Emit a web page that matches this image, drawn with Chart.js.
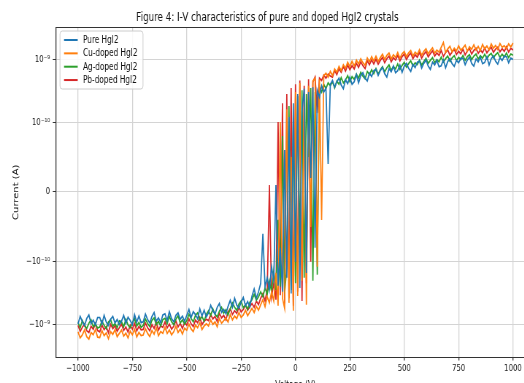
<!DOCTYPE html>
<html>
<head>
<meta charset="utf-8">
<script src="https://cdn.jsdelivr.net/npm/chart.js@4.4.0/dist/chart.umd.min.js"></script>
<style>
html, body { margin: 0; padding: 0; background: #fff; overflow: hidden; width: 524px; height: 383px; }
/* the source picture is squeezed sideways, so the whole chart is too */
#wrap { position: absolute; left: 0; top: 0; width: 810px; height: 395px; transform: scaleX(0.73); transform-origin: 0 0; }
</style>
</head>
<body>
<div id="wrap"><canvas id="myChart" width="810" height="395"></canvas></div>
<script>
// voltage (V)
const voltage = [
  -1000,-990,-980,-970,-960,-950,-940,-930,-920,-910,-900,-890,-880,-870,-860,-850,-840,-830,-820,-810,
  -800,-790,-780,-770,-760,-750,-740,-730,-720,-710,-700,-690,-680,-670,-660,-650,-640,-630,-620,-610,
  -600,-590,-580,-570,-560,-550,-540,-530,-520,-510,-500,-490,-480,-470,-460,-450,-440,-430,-420,-410,
  -400,-390,-380,-370,-360,-350,-340,-330,-320,-310,-300,-290,-280,-270,-260,-250,-240,-230,-220,-210,
  -200,-190,-180,-170,-160,-150,-140,-130,-120,-110,-100,-90,-80,-70,-60,-50,-40,-30,-20,-10,
  0,10,20,30,40,50,60,70,80,90,100,110,120,130,140,150,160,170,180,190,
  200,210,220,230,240,250,260,270,280,290,300,310,320,330,340,350,360,370,380,390,
  400,410,420,430,440,450,460,470,480,490,500,510,520,530,540,550,560,570,580,590,
  600,610,620,630,640,650,660,670,680,690,700,710,720,730,740,750,760,770,780,790,
  800,810,820,830,840,850,860,870,880,890,900,910,920,930,940,950,960,970,980,990,1000];

// current, in nA (1 nA = 1e-9 A)
const pureNA = [
  -0.97,-0.74,-0.90,-1.03,-0.80,-0.70,-0.96,-0.85,-1.01,-0.77,
  -0.77,-0.98,-0.71,-0.91,-1.03,-0.82,-0.74,-0.94,-0.83,-1.00,
  -0.88,-0.71,-0.95,-0.76,-0.86,-1.00,-0.69,-0.91,-0.73,-0.93,
  -0.90,-0.68,-0.83,-0.94,-0.74,-0.64,-0.88,-0.78,-0.93,-0.70,
  -0.67,-0.86,-0.62,-0.80,-0.90,-0.71,-0.65,-0.82,-0.73,-0.88,
  -0.71,-0.57,-0.77,-0.62,-0.69,-0.81,-0.56,-0.73,-0.59,-0.75,
  -0.65,-0.49,-0.60,-0.68,-0.53,-0.46,-0.64,-0.57,-0.67,-0.51,
  -0.41,-0.53,-0.38,-0.49,-0.55,-0.44,-0.37,-0.50,-0.43,-0.52,
  -0.35,-0.27,-0.38,-0.30,
  -0.22,-0.06,-0.25,-0.18,-0.28,-0.12,-0.20,0.01,-0.24,-0.08,
  -0.30,0.06,-0.18,0.12,-0.32,0.20,-0.10,0.28,-0.26,0.15,
  0.34,-0.15,0.30,0.02,0.36,-0.08,0.32,0.25,0.38,0.30,
  0.35,0.04,0.40,
  0.46,0.36,0.44,0.50,0.39,0.34,0.47,0.41,0.52,0.40,
  0.44,0.57,0.42,0.55,0.61,0.50,0.45,0.60,0.53,0.66,
  0.69,0.55,0.66,0.74,0.59,0.52,0.71,0.63,0.78,0.61,
  0.66,0.81,0.62,0.78,0.86,0.72,0.64,0.83,0.74,0.90,
  0.93,0.72,0.86,0.97,0.78,0.69,0.90,0.81,0.96,0.76,
  0.79,0.98,0.73,0.92,1.02,0.85,0.77,0.96,0.88,1.04,
  1.03,0.82,0.97,1.09,0.86,0.78,1.01,0.91,1.08,0.85,
  0.89,1.09,0.81,1.02,1.13,0.93,0.84,1.06,0.96,1.12,
  1.10,0.88,1.04,0.99];
const cuNA = [
  -1.30,-1.62,-1.46,-1.21,-1.55,-1.70,-1.34,-1.45,-1.19,-1.58,
  -1.60,-1.24,-1.50,-1.35,-1.68,-1.29,-1.43,-1.20,-1.55,-1.38,
  -1.22,-1.52,-1.36,-1.63,-1.27,-1.45,-1.18,-1.57,-1.33,-1.49,
  -1.46,-1.16,-1.38,-1.55,-1.24,-1.42,-1.12,-1.50,-1.29,-1.37,
  -1.10,-1.38,-1.21,-1.45,-1.30,-1.06,-1.33,-1.18,-1.41,-1.14,
  -1.23,-0.98,-1.17,-1.29,-1.02,-1.12,-0.93,-1.20,-1.05,-0.97,
  -1.05,-0.84,-0.99,-0.90,-1.08,-0.80,-0.95,-0.86,-0.79,-0.91,
  -0.69,-0.84,-0.73,-0.80,-0.64,-0.77,-0.70,-0.59,-0.72,-0.63,
  -0.55,-0.64,-0.51,-0.59,
  -0.48,-0.40,-0.52,-0.36,-0.45,-0.30,-0.42,-0.15,-0.50,0.10,
  -0.38,-0.55,0.16,-0.45,0.05,-0.60,0.30,-0.35,0.42,-0.20,
  0.22,-0.48,0.38,-0.05,0.45,0.50,-0.12,0.48,-0.04,0.55,
  0.60,0.52,0.64,
  0.55,0.70,0.62,0.77,0.66,0.82,0.72,0.90,0.76,0.93,
  0.78,0.97,0.84,1.02,0.88,0.80,1.05,0.91,1.10,0.94,
  1.12,0.92,1.06,1.20,0.99,1.15,1.25,1.01,1.18,1.07,
  1.28,1.04,1.22,1.33,1.10,1.26,1.38,1.13,1.30,1.19,
  1.42,1.16,1.34,1.47,1.22,1.37,1.52,1.25,1.40,1.30,
  1.55,1.84,1.28,1.46,1.60,1.31,1.50,1.36,1.63,1.39,
  1.52,1.68,1.34,1.58,1.44,1.70,1.40,1.60,1.37,1.72,
  1.46,1.62,1.41,1.75,1.50,1.66,1.43,1.78,1.55,1.64,
  1.48,1.76,1.57,1.82];
const agNA = [
  -0.92,-1.12,-0.86,-1.04,-1.15,-0.95,-0.84,-1.08,-0.97,-1.13,
  -1.09,-0.88,-1.02,-1.16,-0.91,-0.83,-1.06,-0.96,-1.12,-0.87,
  -0.90,-1.08,-0.82,-1.01,-1.12,-0.94,-0.80,-1.05,-0.92,-1.10,
  -1.03,-0.81,-0.96,-1.07,-0.85,-0.78,-1.00,-0.89,-1.05,-0.83,
  -0.79,-0.96,-0.74,-0.90,-1.00,-0.82,-0.72,-0.94,-0.84,-0.98,
  -0.86,-0.68,-0.80,-0.90,-0.71,-0.65,-0.84,-0.74,-0.88,-0.69,
  -0.60,-0.72,-0.56,-0.68,-0.75,-0.61,-0.53,-0.66,-0.58,-0.70,
  -0.56,-0.45,-0.53,-0.59,-0.47,-0.42,-0.54,-0.48,-0.57,-0.44,
  -0.40,-0.33,-0.41,-0.36,
  -0.30,-0.36,-0.26,-0.33,-0.20,-0.30,-0.14,-0.28,-0.04,-0.25,
  0.08,-0.32,-0.12,0.18,-0.28,0.10,-0.22,0.26,-0.08,0.32,
  -0.18,0.28,0.05,0.35,-0.20,0.30,-0.16,0.36,0.30,0.40,
  0.34,0.42,0.38,
  0.44,0.35,0.45,0.40,0.51,0.42,0.47,0.55,0.44,0.53,
  0.48,0.58,0.50,0.62,0.54,0.49,0.64,0.57,0.68,0.59,
  0.71,0.58,0.68,0.76,0.63,0.73,0.81,0.66,0.77,0.70,
  0.84,0.69,0.80,0.89,0.75,0.85,0.94,0.78,0.88,0.82,
  0.97,0.81,0.92,1.03,0.86,0.96,1.06,0.88,0.99,0.91,
  1.08,0.90,1.02,1.12,0.93,1.05,1.14,0.95,1.07,0.99,
  1.15,0.96,1.10,1.18,0.99,1.12,1.21,1.01,1.14,1.04,
  1.20,1.02,1.16,1.24,1.05,1.18,1.27,1.07,1.20,1.09,
  1.26,1.06,1.21,1.16];
const pbNA = [
  -1.03,-1.28,-1.10,-0.98,-1.25,-1.33,-1.06,-1.19,-0.96,-1.24,
  -1.30,-1.01,-1.20,-1.08,-1.35,-0.99,-1.16,-1.04,-1.27,-1.12,
  -0.98,-1.24,-1.09,-1.31,-1.02,-1.18,-0.95,-1.26,-1.07,-1.21,
  -1.19,-0.94,-1.12,-1.25,-1.00,-1.15,-0.91,-1.22,-1.04,-1.10,
  -0.90,-1.13,-0.98,-1.18,-1.06,-0.87,-1.09,-0.95,-1.15,-0.93,
  -1.02,-0.81,-0.97,-1.07,-0.85,-0.93,-0.77,-1.00,-0.88,-0.82,
  -0.86,-0.69,-0.81,-0.74,-0.89,-0.66,-0.78,-0.71,-0.84,-0.63,
  -0.56,-0.69,-0.60,-0.66,-0.53,-0.63,-0.57,-0.49,-0.59,-0.52,
  -0.46,-0.53,-0.42,-0.48,
  -0.38,-0.32,-0.42,-0.28,0.01,-0.36,-0.22,-0.40,0.10,-0.34,
  0.20,-0.46,0.28,-0.38,0.35,-0.50,0.40,-0.30,0.46,-0.42,
  0.38,-0.22,0.48,-0.10,0.44,0.52,0.14,0.50,0.46,0.56,
  0.50,0.58,0.54,
  0.52,0.66,0.57,0.71,0.62,0.76,0.65,0.81,0.68,0.79,
  0.70,0.86,0.74,0.91,0.79,0.71,0.95,0.82,0.98,0.84,
  1.00,0.83,0.96,1.07,0.88,1.02,1.12,0.91,1.06,0.97,
  1.15,0.94,1.10,1.21,0.99,1.14,1.25,1.02,1.18,1.08,
  1.28,1.04,1.20,1.32,1.09,1.23,1.36,1.12,1.26,1.15,
  1.38,1.11,1.28,1.41,1.16,1.31,1.44,1.19,1.34,1.22,
  1.45,1.17,1.36,1.48,1.21,1.38,1.50,1.24,1.40,1.27,
  1.52,1.26,1.42,1.55,1.29,1.45,1.56,1.31,1.47,1.33,
  1.58,1.30,1.49,1.40];

const seriesNames = ['Pure HgI2', 'Cu-doped HgI2', 'Ag-doped HgI2', 'Pb-doped HgI2'];
const seriesColors = ['#1f77b4', '#ff7f0e', '#2ca02c', '#d62728'];

const xTicks = [-1000, -750, -500, -250, 0, 250, 500, 750, 1000];
const xTickLabels = ['\u22121000', '\u2212750', '\u2212500', '\u2212250', '0', '250', '500', '750', '1000'];
const yTicks = [-1, -0.1, 0, 0.1, 1];
const yTickLabels = ['\u221210\u207b\u2079', '\u221210\u207b\u00b9\u2070', '0', '10\u207b\u00b9\u2070', '10\u207b\u2079'];

// symmetric log axis, linear between -0.1 nA and 0.1 nA (like matplotlib symlog)
const LINTHRESH = 0.1;
const LINSCALE = 1;

class SymlogScale extends Chart.LinearScale {
  tf(v) {
    const c = LINSCALE / (1 - 1 / 10);
    const a = Math.abs(v);
    if (a <= LINTHRESH) return v / LINTHRESH * c;
    return Math.sign(v) * (c + Math.log10(a / LINTHRESH));
  }
  inv(t) {
    const c = LINSCALE / (1 - 1 / 10);
    const a = Math.abs(t);
    if (a <= c) return t / c * LINTHRESH;
    return Math.sign(t) * LINTHRESH * Math.pow(10, a - c);
  }
  buildTicks() {
    return yTicks.map(v => ({ value: v }));
  }
  configure() {
    super.configure();
    this._t0 = this.tf(this.min);
    this._t1 = this.tf(this.max);
  }
  getPixelForValue(v) {
    return this.getPixelForDecimal((this.tf(v) - this._t0) / (this._t1 - this._t0));
  }
  getValueForPixel(p) {
    return this.inv(this._t0 + this.getDecimalForPixel(p) * (this._t1 - this._t0));
  }
}
SymlogScale.id = 'symlog';
SymlogScale.defaults = {};
Chart.register(SymlogScale);

Chart.defaults.font.family = 'DejaVu Sans';
Chart.defaults.color = '#222';

// top spine (left and bottom come from the axes)
const framePlugin = {
  id: 'frame',
  afterDatasetsDraw(chart) {
    const a = chart.chartArea, ctx = chart.ctx;
    ctx.save();
    ctx.strokeStyle = '#333';
    ctx.lineWidth = 1;
    ctx.beginPath();
    ctx.moveTo(a.left, a.top);
    ctx.lineTo(a.right, a.top);
    ctx.lineTo(a.right, a.bottom);
    ctx.stroke();
    ctx.restore();
  }
};

// matplotlib-style legend box in the upper left corner
const boxLegend = {
  id: 'boxLegend',
  afterDraw(chart) {
    const ctx = chart.ctx;
    const x = 82.2, y = 31, w = 113.7, h = 58, r = 3;
    ctx.save();
    ctx.fillStyle = 'rgba(255,255,255,0.85)';
    ctx.strokeStyle = '#cccccc';
    ctx.lineWidth = 1;
    ctx.beginPath();
    ctx.roundRect(x, y, w, h, r);
    ctx.fill();
    ctx.stroke();
    ctx.font = '10px "DejaVu Sans"';
    ctx.textBaseline = 'middle';
    chart.data.datasets.forEach((ds, i) => {
      const ly = 40 + i * 13.35;
      ctx.strokeStyle = ds.borderColor;
      ctx.lineWidth = 2;
      ctx.beginPath();
      ctx.moveTo(87.7, ly);
      ctx.lineTo(106.4, ly);
      ctx.stroke();
      ctx.fillStyle = '#111';
      ctx.fillText(ds.label, 113.7, ly + 0.5);
    });
    ctx.restore();
  }
};

const allSeries = [pureNA, cuNA, agNA, pbNA];

const data = {
  datasets: allSeries.map((s, k) => ({
    label: seriesNames[k],
    data: voltage.map((v, i) => ({ x: v, y: s[i] })),
    borderColor: seriesColors[k],
    backgroundColor: seriesColors[k],
    borderWidth: 1.7,
    pointRadius: 0,
    tension: 0
  }))
};

const config = {
  type: 'line',
  data: data,
  plugins: [framePlugin, boxLegend],
  options: {
    responsive: false,
    animation: false,
    devicePixelRatio: 1,
    layout: { padding: { left: 0, right: 77.5, top: 0, bottom: 0 } },
    plugins: {
      legend: { display: false },
      tooltip: { enabled: false },
      title: {
        display: true,
        text: 'Figure 4: I-V characteristics of pure and doped HgI2 crystals',
        color: '#111',
        font: { size: 12, weight: 'normal' },
        padding: { top: 11, bottom: 2.1 }
      }
    },
    scales: {
      x: {
        type: 'linear',
        min: -1100,
        max: 1100,
        afterBuildTicks: s => { s.ticks = xTicks.map(v => ({ value: v })); },
        afterFit: s => { s.height = 38; },
        ticks: {
          font: { size: 9.5 },
          padding: 2,
          maxRotation: 0,
          callback: v => xTickLabels[xTicks.indexOf(v)]
        },
        grid: { color: '#d4d4d4', lineWidth: 1.3, tickColor: '#333', tickLength: 3.5 },
        border: { display: true, color: '#333', width: 1 },
        title: { display: true, text: 'Voltage (V)', font: { size: 10 }, color: '#111', padding: { top: 0, bottom: 4 } }
      },
      y: {
        type: 'symlog',
        min: -3.27,
        max: 3.2,
        afterFit: s => { s.width = 77.05; },
        ticks: {
          font: { size: 9.5 },
          padding: 3.7,
          callback: v => yTickLabels[yTicks.indexOf(v)]
        },
        grid: { color: '#d4d4d4', lineWidth: 1, tickColor: '#333', tickLength: 4.8 },
        border: { display: true, color: '#333', width: 1.3 },
        title: { display: true, text: 'Current (A)', font: { size: 10 }, color: '#111', padding: { top: 16.8, bottom: 0 } }
      }
    }
  }
};

const myChart = new Chart(document.getElementById('myChart'), config);
</script>
</body>
</html>
